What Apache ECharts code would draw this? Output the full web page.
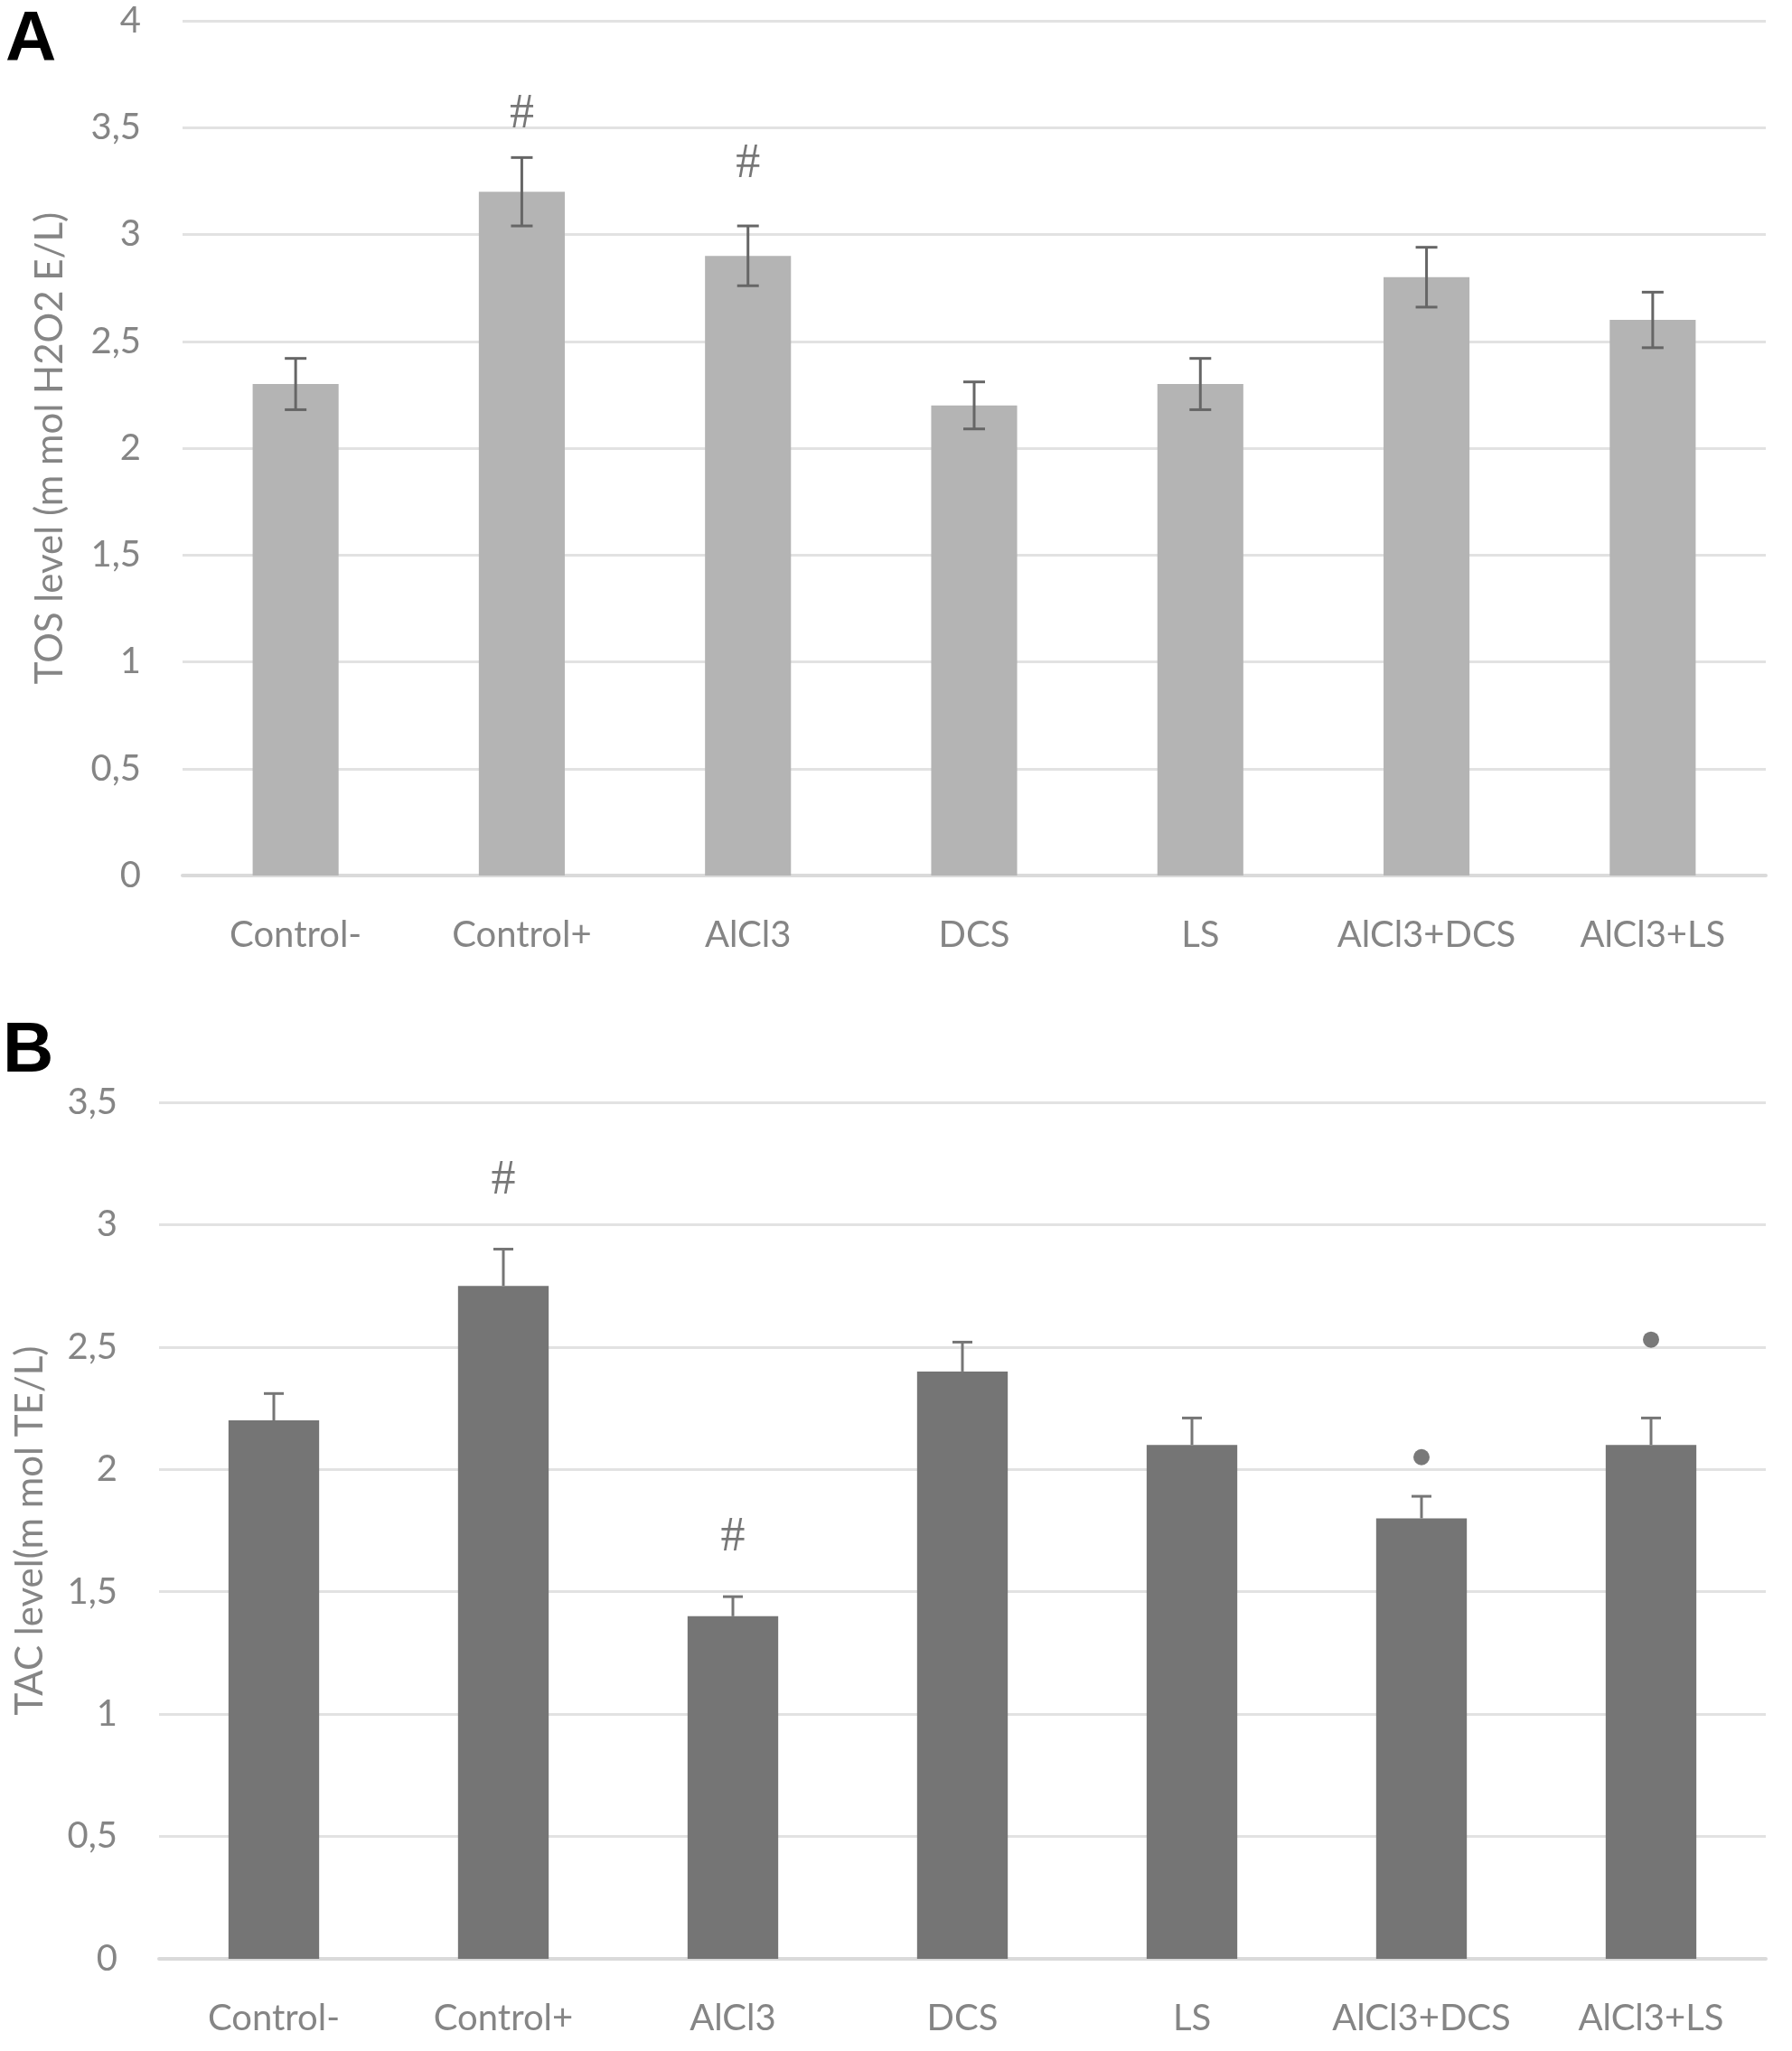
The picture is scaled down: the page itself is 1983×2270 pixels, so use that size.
<!DOCTYPE html>
<html>
<head>
<meta charset="utf-8">
<title>TOS / TAC</title>
<script src="https://cdn.jsdelivr.net/npm/echarts@6/dist/echarts.min.js"></script>
<style>
  html, body { margin: 0; padding: 0; background: #fff; }
  #chart { width: 1983px; height: 2270px; }
</style>
</head>
<body>
<div id="chart"></div>
<script>
// groups, same for both panels
var groups = ['Control-', 'Control+', 'AlCl3', 'DCS', 'LS', 'AlCl3+DCS', 'AlCl3+LS'];

// panel A: TOS
var tosMean = [2.3, 3.2, 2.9, 2.2, 2.3, 2.8, 2.6];
var tosErr = [0.12, 0.16, 0.14, 0.11, 0.12, 0.14, 0.13];
var tosMark = ['', '#', '#', '', '', '', ''];
var tosMarkAt = [0, 3.56, 3.33, 0, 0, 0, 0];
var tosTicks = [0, 0.5, 1, 1.5, 2, 2.5, 3, 3.5, 4];

// panel B: TAC
var tacMean = [2.2, 2.75, 1.4, 2.4, 2.1, 1.8, 2.1];
var tacErr = [0.11, 0.15, 0.08, 0.12, 0.11, 0.09, 0.11];
var tacMark = ['', '#', '#', '', '', '*', '*'];
var tacMarkAt = [0, 3.18, 1.72, 0, 0, 2.05, 2.53];
var tacTicks = [0, 0.5, 1, 1.5, 2, 2.5, 3, 3.5];

var txtGray = '#858585';
var gridGray = '#e2e2e2';
var font = 'Lato, "Open Sans", sans-serif';

function commaNum(v) {
    return String(v).replace('.', ',');
}

// error bar drawn from bar top (or below it) to mean + err
function errorBars(mean, err, color, capW, both, gridIdx) {
    var data = mean.map(function (m, i) {
        return [i, both ? m - err[i] : m, m + err[i]];
    });
    return {
        type: 'custom',
        xAxisIndex: gridIdx,
        yAxisIndex: gridIdx,
        z: 5,
        silent: true,
        data: data,
        renderItem: function (params, api) {
            var lo = api.coord([api.value(0), api.value(1)]);
            var hi = api.coord([api.value(0), api.value(2)]);
            var style = {stroke: color, lineWidth: 3};
            var kids = [
                {type: 'line', shape: {x1: hi[0], y1: hi[1], x2: lo[0], y2: lo[1]}, style: style},
                {type: 'line', shape: {x1: hi[0] - capW / 2, y1: hi[1], x2: hi[0] + capW / 2, y2: hi[1]}, style: style}
            ];
            if (both) {
                kids.push({type: 'line', shape: {x1: lo[0] - capW / 2, y1: lo[1], x2: lo[0] + capW / 2, y2: lo[1]}, style: style});
            }
            return {type: 'group', children: kids};
        }
    };
}

// significance marks: '#' as text, '*' as a dot
function marks(sym, at, gridIdx) {
    var hashes = [], dots = [];
    sym.forEach(function (s, i) {
        if (s === '#') hashes.push([groups[i], at[i]]);
        if (s === '*') dots.push([groups[i], at[i]]);
    });
    return [{
        type: 'scatter',
        xAxisIndex: gridIdx,
        yAxisIndex: gridIdx,
        symbolSize: 1,
        itemStyle: {color: 'rgba(0,0,0,0)'},
        silent: true,
        label: {
            show: true, position: 'inside', formatter: '#',
            fontSize: 54, color: '#555', fontFamily: 'Liberation Serif, serif'
        },
        data: hashes
    }, {
        type: 'scatter',
        xAxisIndex: gridIdx,
        yAxisIndex: gridIdx,
        symbol: 'circle',
        symbolSize: 18,
        itemStyle: {color: '#585858'},
        silent: true,
        data: dots
    }];
}

function xAx(gridIdx) {
    return {
        type: 'category',
        gridIndex: gridIdx,
        data: groups,
        axisLine: {lineStyle: {color: '#dadada', width: 4}},
        axisTick: {show: false},
        axisLabel: {interval: 0, color: txtGray, fontSize: 40, fontFamily: font, margin: 46}
    };
}

function yAx(gridIdx, ticks, name, gap) {
    return {
        type: 'value',
        gridIndex: gridIdx,
        min: ticks[0],
        max: ticks[ticks.length - 1],
        interval: ticks[1] - ticks[0],
        name: name,
        nameLocation: 'middle',
        nameGap: gap,
        nameTextStyle: {color: txtGray, fontSize: 42, fontFamily: font},
        axisLine: {show: false},
        axisTick: {show: false},
        splitLine: {lineStyle: {color: gridGray, width: 3}},
        axisLabel: {color: txtGray, fontSize: 40, fontFamily: font, margin: 46, formatter: commaNum}
    };
}

var myChart = echarts.init(document.getElementById('chart'));

var option = {
    backgroundColor: '#fff',
    animation: false,
    grid: [
        {left: 202, top: 23, width: 1752, height: 946},
        {left: 176, top: 1220, width: 1778, height: 948}
    ],
    xAxis: [xAx(0), xAx(1)],
    yAxis: [
        yAx(0, tosTicks, 'TOS level (m mol H2O2 E/L)', 126),
        yAx(1, tacTicks, 'TAC level(m mol TE/L)', 122)
    ],
    graphic: [
        {type: 'text', left: 6, top: 6, style: {text: 'A', fontSize: 78, fontWeight: 'bold', fill: '#000', fontFamily: 'Liberation Sans, Arial, sans-serif'}},
        {type: 'text', left: 3, top: 1125, style: {text: 'B', fontSize: 78, fontWeight: 'bold', fill: '#000', fontFamily: 'Liberation Sans, Arial, sans-serif'}}
    ],
    series: [
        {
            type: 'bar',
            xAxisIndex: 0,
            yAxisIndex: 0,
            barWidth: '38%',
            itemStyle: {color: '#b4b4b4'},
            data: tosMean
        },
        errorBars(tosMean, tosErr, '#666', 24, true, 0),
        {
            type: 'bar',
            xAxisIndex: 1,
            yAxisIndex: 1,
            barWidth: '39.5%',
            itemStyle: {color: '#757575'},
            data: tacMean
        },
        errorBars(tacMean, tacErr, '#767676', 22, false, 1)
    ].concat(marks(tosMark, tosMarkAt, 0), marks(tacMark, tacMarkAt, 1))
};

myChart.setOption(option);
</script>
</body>
</html>
